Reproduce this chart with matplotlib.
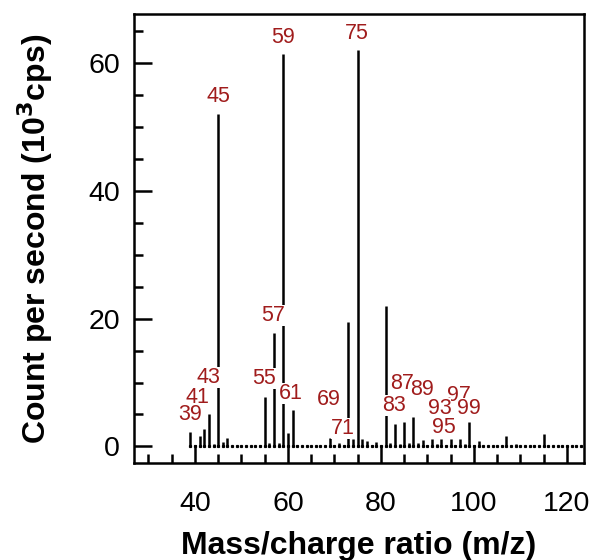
import numpy as np
import matplotlib
matplotlib.use("Agg")
import matplotlib.pyplot as plt

plt.rcParams["font.family"] = ["Liberation Sans", "DejaVu Sans"]

# m/z values and intensities (10^3 cps), one per integer mass
mz = [39, 40, 41, 42, 43, 44, 45, 46, 47, 48, 49, 50, 51, 52, 53, 54,
      55, 56, 57, 58, 59, 60, 61, 62, 63, 64, 65, 66, 67, 68, 69, 70,
      71, 72, 73, 74, 75, 76, 77, 78, 79, 80, 81, 82, 83, 84, 85, 86,
      87, 88, 89, 90, 91, 92, 93, 94, 95, 96, 97, 98, 99, 100, 101, 102,
      103, 104, 105, 106, 107, 108, 109, 110, 111, 112, 113, 114, 115, 116,
      117, 118, 119, 120, 121, 122, 123]
counts = [2.2, 0.3, 1.7, 2.8, 5.1, 0.4, 52.0, 0.7, 1.4, 0, 0, 0, 0, 0, 0, 0.2,
          7.7, 0.5, 17.8, 0.5, 61.4, 2.1, 5.7, 0.3, 0, 0, 0, 0, 0, 0, 1.3, 0.2,
          0.5, 0.2, 19.4, 1.2, 61.9, 1.2, 0.8, 0.2, 0.7, 0, 22.0, 0.6, 3.5, 0.4, 3.9, 0.5,
          4.6, 0.5, 1.0, 0.3, 1.2, 0.4, 1.2, 0.3, 1.2, 0.3, 1.2, 0.4, 3.9, 0.3, 0.8, 0,
          0, 0, 0, 0, 1.6, 0, 0.4, 0, 0, 0, 0.3, 0, 1.9, 0,
          0, 0, 0, 0, 0, 0, 0]

# peak annotations: text and where it sits
label_text = ["39", "41", "43", "45", "55", "57", "59", "61", "69", "71",
              "75", "83", "87", "89", "93", "95", "97", "99"]
label_x = [39.0, 40.6, 42.9, 45.0, 54.9, 56.9, 58.9, 60.6, 68.9, 71.8,
           74.9, 82.9, 84.6, 88.8, 92.6, 93.6, 96.7, 98.9]
label_y = [5.0, 7.7, 10.8, 54.7, 10.6, 20.5, 64.0, 8.3, 7.4, 2.8,
           64.5, 6.4, 9.8, 8.9, 5.9, 2.9, 7.9, 5.9]

fig = plt.figure(figsize=(5.93, 5.60), dpi=100)
ax = fig.add_axes([0.226, 0.173, 0.759, 0.802])

ax.vlines(mz, 0, counts, color="black", lw=1.8, zorder=2)
ax.plot(mz, np.zeros(len(mz)), ls="none", marker="s", ms=1.3,
        color="black", zorder=2)

# lower labels drawn last so they sit on top
order = sorted(range(len(label_text)), key=lambda i: -label_y[i])
for k, i in enumerate(order):
    ax.text(label_x[i], label_y[i], label_text[i], ha="center", va="center",
            fontsize=15.5, color="#a01c1c", zorder=3 + k * 0.01,
            bbox=dict(fc="white", ec="none", pad=0))

ax.set_xlim(26.9, 123.7)
ax.set_ylim(-2.6, 67.6)
ax.set_xticks([40, 60, 80, 100, 120])
ax.set_xticks(np.arange(30, 124, 5), minor=True)
ax.set_yticks([0, 20, 40, 60])
ax.set_yticks(np.arange(0, 67, 5), minor=True)

ax.tick_params(which="both", direction="in", width=1.8, labelsize=20.5)
ax.tick_params(which="major", length=13)
ax.tick_params(which="minor", length=6.5)
ax.tick_params(axis="x", which="major", pad=20)
ax.tick_params(axis="y", which="major", pad=10)
for s in ax.spines.values():
    s.set_linewidth(1.8)

ax.set_xlabel("Mass/charge ratio (m/z)", fontsize=23, fontweight="bold",
              labelpad=10)
ax.set_ylabel("Count per second (10$^\\mathbf{3}$cps)", fontsize=23,
              fontweight="bold", labelpad=24)

fig.savefig("out.png", dpi=100)
